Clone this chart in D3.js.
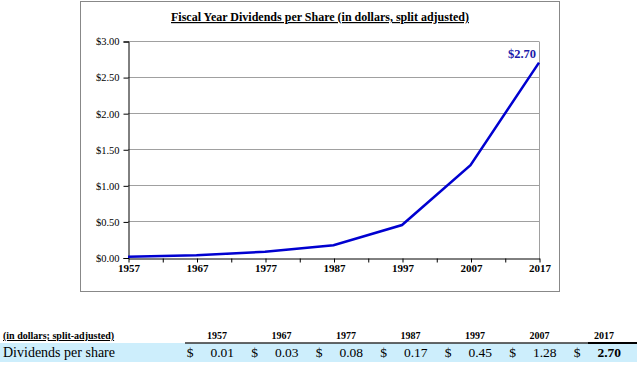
<!DOCTYPE html>
<html><head><meta charset="utf-8">
<script src="https://cdn.jsdelivr.net/npm/d3@7"></script>
<style>body{margin:0;background:#fff}svg{display:block}svg text{font-family:"Liberation Serif","Times New Roman",serif}</style>
</head><body><svg id="c" width="640" height="366"></svg>
<script>
const years = [1957, 1967, 1977, 1987, 1997, 2007, 2017];
const dividends = [0.01, 0.03, 0.08, 0.17, 0.45, 1.28, 2.70];
const valueLabels = ["0.01", "0.03", "0.08", "0.17", "0.45", "1.28", "2.70"];
const yTicks = [0, 0.5, 1, 1.5, 2, 2.5, 3];
const title = "Fiscal Year Dividends per Share (in dollars, split adjusted)";

const svg = d3.select("#c");
svg.append("rect").attr("x",80.5).attr("y",1.5).attr("width",479).attr("height",290)
  .attr("fill","#fff").attr("stroke","#888").attr("stroke-width",1);

const x = d3.scaleLinear().domain([1957,2017]).range([128,539]);
const y = d3.scaleLinear().domain([0,3]).range([257.5,41]);

svg.append("g").selectAll("line").data(yTicks.filter(d=>d>0)).join("line")
  .attr("x1",128).attr("x2",539).attr("y1",d=>Math.round(y(d))+0.5).attr("y2",d=>Math.round(y(d))+0.5)
  .attr("stroke","#a0a0a0").attr("stroke-width",1);
svg.append("line").attr("x1",539.5).attr("x2",539.5).attr("y1",Math.round(y(3))+0.5).attr("y2",Math.round(y(0))+0.5)
  .attr("stroke","#a0a0a0");

const yAxis = d3.axisLeft(y).tickValues(yTicks).tickFormat(d=>"$"+d.toFixed(2)).tickSize(5).tickPadding(4);
const gy = svg.append("g").attr("transform","translate(128.5,0.5)").call(yAxis);
gy.attr("font-family",null);
gy.select(".domain").attr("stroke","#000");
gy.selectAll("line").attr("stroke","#000");
gy.selectAll("text").attr("font-size",10.5).attr("fill","#000");

const xTickVals = d3.range(1957,2018,5);
const xAxis = d3.axisBottom(x).tickValues(xTickVals).tickSize(4).tickSizeOuter(0).tickPadding(2)
  .tickFormat(d=>years.includes(d)?d:"");
const gx = svg.append("g").attr("transform","translate(0.5,"+(Math.round(y(0))+0.5)+")").call(xAxis);
gx.attr("font-family",null);
gx.select(".domain").attr("stroke","#000");
gx.selectAll("line").attr("stroke","#000");
gx.selectAll("text").attr("font-size",11).attr("font-weight","bold").attr("fill","#000");

svg.append("path").datum(years.map((yr,i)=>[yr,dividends[i]]))
  .attr("d",d3.line().x(d=>x(d[0])).y(d=>y(d[1])))
  .attr("fill","none").attr("stroke","#0000d0").attr("stroke-width",2.5);

svg.append("text").attr("x",x(2017)-3).attr("y",y(dividends[6])-4.5).attr("text-anchor","end")
  .attr("font-size",12.5).attr("font-weight","bold").attr("fill","#1a1aaa").text("$"+valueLabels[6]);

svg.append("text").attr("x",320).attr("y",21).attr("text-anchor","middle")
  .attr("font-size",12).attr("font-weight","bold").attr("text-decoration","underline").text(title);

const colX = d3.scaleLinear().domain([0,6]).range([217,604]);
svg.append("rect").attr("x",0).attr("y",343).attr("width",637).attr("height",19).attr("fill","#cdeefc");
svg.append("line").attr("x1",185).attr("x2",588).attr("y1",343).attr("y2",343).attr("stroke","#333").attr("stroke-width",1.5);
svg.append("line").attr("x1",588).attr("x2",637).attr("y1",343).attr("y2",343).attr("stroke","#000").attr("stroke-width",2);
svg.append("text").attr("x",3).attr("y",339).attr("font-size",10).attr("font-weight","bold")
  .attr("text-decoration","underline").text("(in dollars; split-adjusted)");
svg.append("g").selectAll("text").data(years).join("text")
  .attr("x",(d,i)=>colX(i)).attr("y",339).attr("text-anchor","middle")
  .attr("font-size",10).attr("font-weight","bold").text(d=>d);
svg.append("text").attr("x",3).attr("y",357).attr("font-size",14).text("Dividends per share");
svg.append("g").selectAll("text").data(valueLabels).join("text")
  .attr("x",(d,i)=>colX(i)-27).attr("y",357).attr("text-anchor","middle").attr("font-size",13.5).text("$");
svg.append("g").selectAll("text").data(valueLabels).join("text")
  .attr("x",(d,i)=>colX(i)+17).attr("y",357).attr("text-anchor","end").attr("font-size",13.5)
  .attr("font-weight",(d,i)=>i===6?"bold":"normal").text(d=>d);
</script></body></html>
